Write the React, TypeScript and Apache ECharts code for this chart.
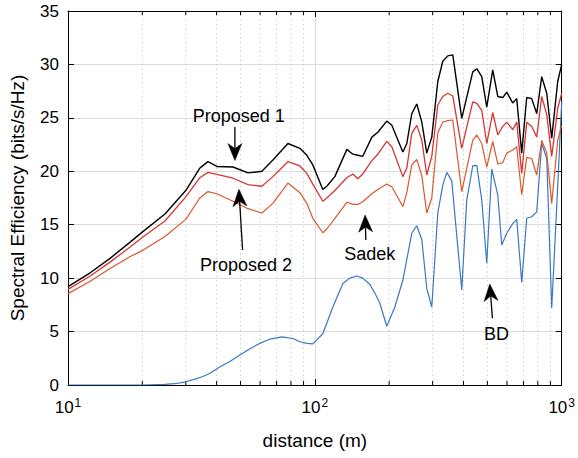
import React, { useEffect, useRef } from "react";
import * as echarts from "echarts";

const FONT = '"Liberation Sans", Arial, Helvetica, sans-serif';

// distance (m) sample points shared by the three upper curves
const distances = [10, 12.3, 14.8, 17.8, 20.1, 24.7, 30.0, 34.2, 36.9, 40.1, 46.6, 53.6, 61.0, 67.6, 77.8, 87.0, 92.8, 98.1, 107.7, 111.8, 120.5, 134.8, 142.5, 149.3, 156.4, 170.2, 179.9, 195.6, 205.0, 227.2, 235.8, 247.0, 258.8, 271.2, 284.0, 297.6, 314.8, 329.8, 345.6, 362.0, 393.6, 436.2, 452.8, 474.4, 497.0, 525.6, 550.7, 576.9, 598.8, 633.2, 657.3, 688.7, 721.5, 755.9, 792.0, 829.8, 869.8, 911.0, 963.4, 1000];

const proposed1 = [9.2, 10.5, 11.85, 13.35, 14.35, 16.0, 18.2, 20.3, 20.9, 20.45, 20.4, 19.85, 20.0, 21.05, 22.6, 22.15, 21.5, 20.6, 18.3, 18.6, 19.5, 22.05, 21.6, 21.5, 21.4, 23.2, 23.65, 24.7, 24.3, 21.8, 22.6, 25.4, 26.3, 24.6, 21.7, 23.2, 28.4, 30.3, 30.8, 30.9, 24.95, 29.3, 29.6, 28.85, 26.0, 29.5, 27.0, 26.9, 27.4, 26.4, 26.8, 21.7, 26.9, 26.8, 25.4, 28.85, 27.3, 23.1, 28.4, 30.0];

const proposed2 = [8.95, 10.2, 11.5, 12.9, 13.85, 15.35, 17.6, 19.4, 19.9, 19.7, 19.35, 18.75, 18.6, 19.5, 20.9, 20.5, 19.8, 18.8, 17.2, 17.5, 18.2, 19.4, 19.75, 19.3, 19.75, 21.0, 21.6, 22.8, 22.3, 19.5, 20.3, 23.55, 24.3, 22.9, 19.65, 21.4, 26.2, 27.0, 27.3, 27.05, 22.15, 26.5, 26.35, 25.7, 22.6, 25.5, 23.4, 24.2, 24.6, 23.9, 24.6, 19.8, 24.6, 24.2, 23.2, 27.0, 25.3, 21.4, 25.9, 27.3];

const sadek = [8.55, 9.7, 10.9, 12.0, 12.6, 13.9, 15.5, 17.5, 18.1, 17.9, 17.2, 16.5, 16.1, 17.0, 18.9, 18.0, 17.0, 15.6, 14.25, 14.6, 15.6, 17.1, 16.9, 16.9, 17.15, 17.9, 18.3, 18.8, 18.55, 16.7, 18.0, 20.6, 21.1, 19.6, 16.1, 17.5, 23.6, 24.6, 24.75, 24.8, 18.1, 22.9, 23.4, 22.6, 20.4, 22.8, 20.7, 20.8, 21.7, 22.0, 22.3, 17.8, 21.3, 21.2, 19.65, 22.9, 21.7, 17.0, 22.9, 24.3];

// BD curve has its own sample points
const bdDistances = [10, 20.1, 24.7, 27.1, 30.0, 32.7, 35.2, 37.6, 41.3, 45.3, 49.7, 54.6, 59.9, 65.8, 73.5, 81.5, 87.0, 92.8, 98.1, 107.7, 118.3, 129.9, 138.6, 147.9, 156.4, 167.0, 175.0, 183.3, 195.6, 210.9, 227.2, 247.0, 258.8, 271.2, 284.0, 297.6, 314.8, 329.8, 342.4, 358.6, 393.6, 412.5, 436.2, 452.8, 474.4, 497.0, 520.8, 550.7, 571.6, 598.8, 633.2, 657.3, 688.7, 721.5, 755.9, 792.0, 829.8, 869.8, 911.0, 963.4, 1000];
const bd = [0, 0, 0.05, 0.12, 0.3, 0.55, 0.8, 1.1, 1.7, 2.2, 2.8, 3.4, 3.9, 4.3, 4.5, 4.35, 4.05, 3.9, 3.85, 4.8, 7.3, 9.5, 10.0, 10.2, 10.0, 9.4, 8.6, 7.65, 5.5, 7.3, 9.8, 14.2, 14.9, 13.6, 9.05, 7.3, 16.1, 18.7, 19.9, 19.1, 8.9, 17.3, 20.5, 20.55, 17.3, 11.4, 20.2, 17.8, 13.1, 14.2, 15.1, 15.5, 9.6, 15.6, 15.75, 16.2, 22.6, 21.2, 7.2, 18.6, 26.5];

const minorTicks = [20, 30, 40, 50, 60, 70, 80, 90, 200, 300, 400, 500, 600, 700, 800, 900];

// annotations: label text, label position [distance, value], arrow tail, arrow tip
const annotationLabels = ["Proposed 1", "Proposed 2", "Sadek", "BD"];
const labelPositions = [[49.2, 25.17], [52.6, 11.23], [167, 12.26], [544, 4.77]];
const arrowTails = [[47.44, 24.14], [50.96, 12.63], [160.9, 13.57], [524.1, 6.24]];
const arrowTips = [[47.44, 21.0], [49.23, 18.31], [159.8, 15.91], [511.1, 9.45]];

const Y_MIN = 0;
const Y_MAX = 35;
const Y_STEP = 5;

export default function App() {
  const ref = useRef<HTMLDivElement>(null);

  useEffect(() => {
    if (!ref.current) return;
    const chart = echarts.init(ref.current, undefined, { renderer: "svg" });

    const pair = (xs: number[], ys: number[]) => xs.map((x, i) => [x, ys[i]]);

    const option: any = {
      animation: false,
      backgroundColor: "#ffffff",
      textStyle: { fontFamily: FONT },
      grid: { left: 68, right: 16, top: 11, bottom: 73, containLabel: false },
      xAxis: [
        {
          type: "log",
          logBase: 10,
          min: 10,
          max: 1000,
          position: "bottom",
          name: "distance (m)",
          nameLocation: "middle",
          nameGap: 46,
          nameTextStyle: { fontSize: 19, color: "#000", fontFamily: FONT },
          axisLine: { show: true, onZero: false, lineStyle: { color: "#000", width: 1 } },
          axisTick: { show: true, inside: true, length: 6, lineStyle: { color: "#000", width: 1 } },
          axisLabel: {
            margin: 12,
            formatter: (v: number) => `{b|10}{s|${Math.round(Math.log10(v))}}`,
            rich: {
              b: { fontSize: 17, color: "#000", fontFamily: FONT },
              s: { fontSize: 12, color: "#000", fontFamily: FONT, verticalAlign: "bottom", padding: [0, 0, 9, 1] },
            },
          },
          splitLine: { show: true, lineStyle: { color: "#dcdcdc", width: 1.2 } },
        },
        {
          type: "log",
          logBase: 10,
          min: 10,
          max: 1000,
          position: "top",
          axisLine: { show: true, onZero: false, lineStyle: { color: "#000", width: 1 } },
          axisTick: { show: true, inside: true, length: 6, lineStyle: { color: "#000", width: 1 } },
          axisLabel: { show: false },
          splitLine: { show: false },
        },
      ],
      yAxis: [
        {
          type: "value",
          min: Y_MIN,
          max: Y_MAX,
          interval: Y_STEP,
          name: "Spectral Efficiency (bits/s/Hz)",
          nameLocation: "middle",
          nameGap: 41,
          nameTextStyle: { fontSize: 19, color: "#000", fontFamily: FONT },
          axisLine: { show: true, onZero: false, lineStyle: { color: "#000", width: 1 } },
          axisTick: { show: true, inside: true, length: 6, lineStyle: { color: "#000", width: 1 } },
          axisLabel: { fontSize: 17, color: "#000", margin: 9, fontFamily: FONT },
          splitLine: { show: true, lineStyle: { color: "#dcdcdc", width: 1.2 } },
        },
        {
          type: "value",
          min: Y_MIN,
          max: Y_MAX,
          interval: Y_STEP,
          position: "right",
          axisLine: { show: true, onZero: false, lineStyle: { color: "#000", width: 1 } },
          axisTick: { show: true, inside: true, length: 6, lineStyle: { color: "#000", width: 1 } },
          axisLabel: { show: false },
          splitLine: { show: false },
        },
      ],
      series: [
        {
          type: "custom",
          z: 1,
          silent: true,
          clip: true,
          data: minorTicks.map((v) => [v, 0]),
          renderItem: (_params: any, api: any) => {
            const d = api.value(0);
            const b = api.coord([d, Y_MIN]);
            const t = api.coord([d, Y_MAX]);
            return {
              type: "group",
              children: [
                { type: "line", shape: { x1: b[0], y1: b[1], x2: t[0], y2: t[1] }, style: { stroke: "#c4c4c4", lineWidth: 1, lineDash: [1.2, 3.3] } },
                { type: "line", shape: { x1: b[0], y1: b[1], x2: b[0], y2: b[1] - 4 }, style: { stroke: "#000", lineWidth: 1 } },
                { type: "line", shape: { x1: t[0], y1: t[1], x2: t[0], y2: t[1] + 4 }, style: { stroke: "#000", lineWidth: 1 } },
              ],
            };
          },
        },
        {
          name: "BD",
          type: "line",
          z: 3,
          data: pair(bdDistances, bd),
          showSymbol: false,
          lineStyle: { color: "#3a78c2", width: 1.2 },
        },
        {
          name: "Sadek",
          type: "line",
          z: 3,
          data: pair(distances, sadek),
          showSymbol: false,
          lineStyle: { color: "#d9582c", width: 1.2 },
        },
        {
          name: "Proposed 2",
          type: "line",
          z: 3,
          data: pair(distances, proposed2),
          showSymbol: false,
          lineStyle: { color: "#d83434", width: 1.3 },
        },
        {
          name: "Proposed 1",
          type: "line",
          z: 4,
          data: pair(distances, proposed1),
          showSymbol: false,
          lineStyle: { color: "#000000", width: 1.4 },
          markPoint: {
            silent: true,
            symbol: "rect",
            symbolSize: 1,
            itemStyle: { color: "rgba(0,0,0,0)" },
            label: { show: true, position: "inside", formatter: "{b}", fontSize: 18, color: "#000", fontFamily: FONT },
            data: annotationLabels.map((name, i) => ({ name, coord: labelPositions[i] })),
          },
        },
        {
          name: "arrows",
          type: "custom",
          z: 6,
          silent: true,
          clip: false,
          encode: { x: [0, 2], y: [1, 3] },
          data: arrowTails.map((t, i) => [t[0], t[1], arrowTips[i][0], arrowTips[i][1]]),
          renderItem: (_params: any, api: any) => {
            const s = api.coord([api.value(0), api.value(1)]);
            const e = api.coord([api.value(2), api.value(3)]);
            const dx = e[0] - s[0];
            const dy = e[1] - s[1];
            const len = Math.sqrt(dx * dx + dy * dy) || 1;
            const ux = dx / len;
            const uy = dy / len;
            const px = -uy;
            const py = ux;
            const headLen = 17;
            const halfW = 7;
            const notch = 12;
            const bx = e[0] - ux * headLen;
            const by = e[1] - uy * headLen;
            const nx = e[0] - ux * notch;
            const ny = e[1] - uy * notch;
            return {
              type: "group",
              children: [
                { type: "line", shape: { x1: s[0], y1: s[1], x2: nx, y2: ny }, style: { stroke: "#000", lineWidth: 1.3 } },
                {
                  type: "polygon",
                  shape: { points: [[e[0], e[1]], [bx + px * halfW, by + py * halfW], [nx, ny], [bx - px * halfW, by - py * halfW]] },
                  style: { fill: "#000", stroke: "#000", lineWidth: 0.5 },
                },
              ],
            };
          },
        },
      ],
    };

    chart.setOption(option);
    return () => chart.dispose();
  }, []);

  return (
    <div
      ref={ref}
      style={{ position: "fixed", left: 0, top: 0, width: 578, height: 458, background: "#fff" }}
    />
  );
}
